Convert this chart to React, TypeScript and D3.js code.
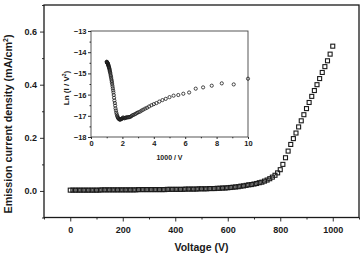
import React, { useEffect, useRef } from "react";
import * as d3 from "d3";

// Main plot: emission current density vs applied voltage
const voltages = [
  0, 10, 20, 30, 40, 50, 60, 70, 80, 90,
  100, 110, 120, 130, 140, 150, 160, 170, 180, 190,
  200, 210, 220, 230, 240, 250, 260, 270, 280, 290,
  300, 310, 320, 330, 340, 350, 360, 370, 380, 390,
  400, 410, 420, 430, 440, 450, 460, 470, 480, 490,
  500, 510, 520, 530, 540, 550, 560, 570, 580, 590,
  600, 610, 620, 630, 640, 650, 660, 670, 680, 690,
  700, 710, 720, 730, 740, 750, 760, 770, 780, 790,
  800, 810, 820, 830, 840, 850, 860, 870, 880, 890,
  900, 910, 920, 930, 940, 950, 960, 970, 980, 990,
  1000,
];
const currentDensity = [
  0.003, 0.003, 0.003, 0.003, 0.003, 0.003, 0.003, 0.003, 0.003, 0.003,
  0.003, 0.003, 0.004, 0.004, 0.004, 0.004, 0.004, 0.004, 0.004, 0.004,
  0.004, 0.004, 0.004, 0.004, 0.004, 0.004, 0.005, 0.005, 0.005, 0.005,
  0.005, 0.005, 0.005, 0.005, 0.005, 0.005, 0.005, 0.006, 0.006, 0.006,
  0.006, 0.006, 0.006, 0.006, 0.007, 0.007, 0.007, 0.007, 0.007, 0.008,
  0.008, 0.008, 0.008, 0.009, 0.009, 0.009, 0.01, 0.01, 0.011, 0.011,
  0.012, 0.013, 0.014, 0.015, 0.016, 0.018, 0.019, 0.021, 0.023, 0.024,
  0.026, 0.028, 0.031, 0.033, 0.037, 0.041, 0.046, 0.052, 0.059, 0.068,
  0.08, 0.1, 0.125, 0.15, 0.175, 0.197, 0.218, 0.241, 0.264, 0.287,
  0.31, 0.333, 0.356, 0.378, 0.4, 0.423, 0.446, 0.468, 0.49, 0.515,
  0.545,
];
const xTicks = [0, 200, 400, 600, 800, 1000];
const xMinorTicks = [-100, 100, 300, 500, 700, 900, 1100];
const yTicks = [0.0, 0.2, 0.4, 0.6];
const yMinorTicks = [-0.1, 0.1, 0.3, 0.5, 0.7];

// Inset: Ln(I/V^2) vs 1000/V
const insetX = [
  10, 9.09, 8.33, 7.69, 7.14, 6.67, 6.25, 5.88, 5.56, 5.26,
  5.0, 4.76, 4.55, 4.35, 4.17, 4.0, 3.85, 3.7, 3.57, 3.45,
  3.33, 3.23, 3.13, 3.03, 2.94, 2.86, 2.78, 2.7, 2.63, 2.56,
  2.5, 2.44, 2.38, 2.33, 2.27, 2.22, 2.17, 2.13, 2.08, 2.04,
  2.0, 1.96, 1.92, 1.89, 1.85, 1.82, 1.79, 1.75, 1.72, 1.69,
  1.67, 1.64, 1.61, 1.59, 1.56, 1.54, 1.52, 1.49, 1.47, 1.45,
  1.43, 1.41, 1.39, 1.37, 1.35, 1.33, 1.32, 1.3, 1.28, 1.27,
  1.25, 1.23, 1.22, 1.2, 1.19, 1.18, 1.16, 1.15, 1.14, 1.12,
  1.11, 1.1, 1.09, 1.08, 1.06, 1.05, 1.04, 1.03, 1.02, 1.01,
  1.0,
];
const insetY = [
  -15.25, -15.52, -15.47, -15.58, -15.66, -15.72, -15.9, -15.96, -16.02, -16.05,
  -16.12, -16.2, -16.26, -16.33, -16.4, -16.45, -16.5, -16.56, -16.62, -16.66,
  -16.71, -16.75, -16.8, -16.83, -16.86, -16.9, -16.93, -16.96, -16.98, -17.02,
  -17.05, -17.06, -17.07, -17.06, -17.09, -17.08, -17.1, -17.12, -17.1, -17.08,
  -17.12, -17.14, -17.15, -17.17, -17.18, -17.17, -17.16, -17.13, -17.1, -17.05,
  -17.0, -16.93, -16.85, -16.75, -16.65, -16.52, -16.4, -16.28, -16.15, -16.02,
  -15.9, -15.8, -15.7, -15.6, -15.5, -15.42, -15.35, -15.28, -15.2, -15.14,
  -15.08, -15.0, -14.95, -14.9, -14.85, -14.8, -14.76, -14.72, -14.7, -14.66,
  -14.63, -14.6, -14.58, -14.55, -14.53, -14.51, -14.5, -14.49, -14.47, -14.46,
  -14.45,
];
const insetXTicks = [0, 2, 4, 6, 8, 10];
const insetXMinor = [1, 3, 5, 7, 9];
const insetYTicks = [-18, -17, -16, -15, -14, -13];
const insetYMinor = [-17.5, -16.5, -15.5, -14.5, -13.5];

const FONT = "'Liberation Sans', Arial, sans-serif";
const INK = "#1a1a1a";

const App = () => {
  const svgRef = useRef<SVGSVGElement>(null);

  useEffect(() => {
    const svg = d3.select(svgRef.current);
    svg.selectAll("*").remove();

    const width = 361;
    const height = 255;
    const m = { left: 44, right: 359, top: 5, bottom: 217.5 };

    svg.append("rect").attr("width", width).attr("height", height).attr("fill", "#fff");

    const x = d3.scaleLinear().domain([-100, 1100]).range([m.left, m.right]);
    const y = d3.scaleLinear().domain([-0.1, 0.7]).range([m.bottom, m.top]);

    // frame
    svg.append("rect")
      .attr("x", m.left)
      .attr("y", m.top)
      .attr("width", m.right - m.left)
      .attr("height", m.bottom - m.top)
      .attr("fill", "none")
      .attr("stroke", INK)
      .attr("stroke-width", 1.3);

    const styleAxis = (g: any, size: number) => {
      g.select(".domain").remove();
      g.selectAll("line").attr("stroke", INK).attr("stroke-width", 1.1);
      g.selectAll("text")
        .attr("font-family", FONT)
        .attr("font-weight", "bold")
        .attr("font-size", size)
        .attr("fill", INK);
    };

    svg.append("g")
      .attr("transform", `translate(0,${m.bottom})`)
      .call(d3.axisBottom(x).tickValues(xTicks).tickSize(4).tickSizeOuter(0).tickPadding(5).tickFormat(d3.format("d")))
      .call((g) => styleAxis(g, 9));
    svg.append("g")
      .attr("transform", `translate(0,${m.bottom})`)
      .call(d3.axisBottom(x).tickValues(xMinorTicks).tickSize(2).tickFormat(() => ""))
      .call((g) => styleAxis(g, 9));

    svg.append("g")
      .attr("transform", `translate(${m.left},0)`)
      .call(d3.axisLeft(y).tickValues(yTicks).tickSize(4).tickPadding(3).tickFormat(d3.format(".1f")))
      .call((g) => styleAxis(g, 9));
    svg.append("g")
      .attr("transform", `translate(${m.left},0)`)
      .call(d3.axisLeft(y).tickValues(yMinorTicks).tickSize(2).tickFormat(() => ""))
      .call((g) => styleAxis(g, 9));

    // axis titles
    svg.append("text")
      .attr("x", (m.left + m.right) / 2)
      .attr("y", 251)
      .attr("text-anchor", "middle")
      .attr("font-family", FONT)
      .attr("font-weight", "bold")
      .attr("font-size", 10.5)
      .attr("fill", INK)
      .text("Voltage (V)");

    const yTitle = svg.append("text")
      .attr("transform", `translate(11.5,124) rotate(-90)`)
      .attr("text-anchor", "middle")
      .attr("font-family", FONT)
      .attr("font-weight", "bold")
      .attr("font-size", 10.8)
      .attr("fill", INK);
    yTitle.append("tspan").text("Emission current density (mA/cm");
    yTitle.append("tspan").attr("font-size", 7).attr("dy", -4).text("2");
    yTitle.append("tspan").attr("dy", 4).text(")");

    // main data: open squares
    const main = voltages.map((v, i) => ({ v, j: currentDensity[i] }));
    const sq = 4;
    svg.append("g")
      .selectAll("rect")
      .data(main)
      .enter()
      .append("rect")
      .attr("x", (d) => x(d.v) - sq / 2)
      .attr("y", (d) => y(d.j) - sq / 2)
      .attr("width", sq)
      .attr("height", sq)
      .attr("fill", "none")
      .attr("stroke", INK)
      .attr("stroke-width", 1.1);

    // inset
    const ix = d3.scaleLinear().domain([0, 10]).range([91, 248]);
    const iy = d3.scaleLinear().domain([-18, -13]).range([137, 31]);

    svg.append("rect")
      .attr("x", 91)
      .attr("y", 31)
      .attr("width", 248 - 91)
      .attr("height", 137 - 31)
      .attr("fill", "#fff")
      .attr("stroke", "#444")
      .attr("stroke-width", 0.9);

    svg.append("g")
      .attr("transform", `translate(0,137)`)
      .call(d3.axisBottom(ix).tickValues(insetXTicks).tickSize(2).tickSizeOuter(0).tickPadding(1.5).tickFormat(d3.format("d")))
      .call((g) => styleAxis(g, 7.5));
    svg.append("g")
      .attr("transform", `translate(0,137)`)
      .call(d3.axisBottom(ix).tickValues(insetXMinor).tickSize(1.3).tickFormat(() => ""))
      .call((g) => styleAxis(g, 7.5));
    svg.append("g")
      .attr("transform", `translate(91,0)`)
      .call(d3.axisLeft(iy).tickValues(insetYTicks).tickSize(3).tickPadding(1.5).tickFormat(d3.format("d")))
      .call((g) => styleAxis(g, 7.5));
    svg.append("g")
      .attr("transform", `translate(91,0)`)
      .call(d3.axisLeft(iy).tickValues(insetYMinor).tickSize(1.5).tickFormat(() => ""))
      .call((g) => styleAxis(g, 7.5));
    svg.selectAll("g line").attr("stroke-width", 0.9);

    svg.append("text")
      .attr("x", 169.5)
      .attr("y", 160)
      .attr("text-anchor", "middle")
      .attr("font-family", FONT)
      .attr("font-weight", "bold")
      .attr("font-size", 7)
      .attr("fill", INK)
      .text("1000 / V");

    const iTitle = svg.append("text")
      .attr("transform", `translate(68.5,88) rotate(-90)`)
      .attr("text-anchor", "middle")
      .attr("font-family", FONT)
      .attr("font-weight", "bold")
      .attr("font-size", 8)
      .attr("fill", INK);
    iTitle.append("tspan").text("Ln (I / V");
    iTitle.append("tspan").attr("font-size", 5).attr("dy", -3).text("2");
    iTitle.append("tspan").attr("dy", 3).text(")");

    const inset = insetX.map((u, i) => ({ u, l: insetY[i] }));
    svg.append("g")
      .selectAll("circle")
      .data(inset)
      .enter()
      .append("circle")
      .attr("cx", (d) => ix(d.u))
      .attr("cy", (d) => iy(d.l))
      .attr("r", 1.6)
      .attr("fill", "none")
      .attr("stroke", INK)
      .attr("stroke-width", 0.8);
  }, []);

  return (
    <div style={{ position: "absolute", left: 0, top: 0 }}>
      <svg ref={svgRef} width={361} height={255} style={{ display: "block" }}></svg>
    </div>
  );
};

export default App;
